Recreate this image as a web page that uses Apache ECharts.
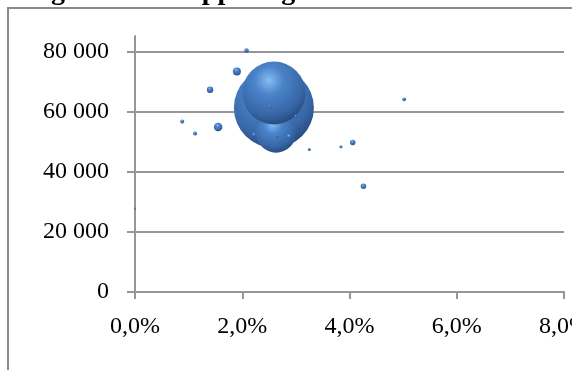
<!DOCTYPE html>
<html>
<head>
<meta charset="utf-8">
<script src="https://cdn.jsdelivr.net/npm/echarts@6/dist/echarts.min.js"></script>
<style>html,body{margin:0;padding:0;background:#fff}#c{width:572px;height:370px}</style>
</head>
<body>
<div id="c"></div>
<script>
// Data
const titleText = 'Diagram 6: Grupperingsvärde';
const xPercent = [2.08, 1.90, 1.40, 5.02, 0.88, 1.55, 1.12, 2.59, 2.63, 2.59, 2.51, 3.00, 2.22, 2.65, 2.87, 3.25, 3.84, 4.06, 4.26, 0.00];
const yValues  = [80500, 73500, 67400, 64200, 56800, 55000, 52800, 61400, 53100, 66300, 61800, 58600, 52400, 52100, 51800, 47500, 48400, 49800, 35200, 27800];
const bubbleSize = [20, 64, 42, 14, 16, 72, 16, 6400, 1600, 3969, 9, 9, 16, 9, 25, 9, 10, 30, 30, 4];
const yTickValues = [0, 20000, 40000, 60000, 80000];
const xTickValues = [0, 2, 4, 6, 8];

const data = xPercent.map((x, i) => [x, yValues[i], bubbleSize[i]]);

const bubbleColor = {
  type: 'radial', x: 0.42, y: 0.3, r: 0.8,
  colorStops: [
    {offset: 0, color: '#86bcf2'},
    {offset: 0.28, color: '#4b84ca'},
    {offset: 0.68, color: '#3767a6'},
    {offset: 1, color: '#203d6b'}
  ]
};

const gray = '#969696';
const serif = 'Liberation Serif';

const chart = echarts.init(document.getElementById('c'), null, {renderer: 'canvas'});
chart.setOption({
  animation: false,
  backgroundColor: '#fff',
  graphic: [
    {type: 'rect', shape: {x: 8, y: 8, width: 700, height: 500},
     style: {fill: 'none', stroke: '#8a8a8a', lineWidth: 2}, z: 0},
    {type: 'text', x: 9, y: 6,
     style: {text: titleText, font: 'bold 28px "' + serif + '"', fill: '#000', verticalAlign: 'bottom'}}
  ],
  grid: {left: 135, top: 36, right: 8, bottom: 78, outerBoundsMode: 'none', containLabel: false},
  xAxis: {
    type: 'value', min: 0, max: 8, interval: 2,
    axisLine: {show: true, lineStyle: {color: gray, width: 2}},
    axisTick: {show: true, length: 7, lineStyle: {color: gray, width: 2}, customValues: xTickValues},
    axisLabel: {customValues: xTickValues, margin: 23, color: '#000', fontFamily: serif, fontSize: 24,
      formatter: v => v.toFixed(1).replace('.', ',') + '%'},
    splitLine: {show: false}
  },
  yAxis: {
    type: 'value', min: 0, max: 85300, interval: 20000,
    axisLine: {show: true, lineStyle: {color: gray, width: 2}},
    axisTick: {show: true, length: 8, lineStyle: {color: gray, width: 2}, customValues: yTickValues},
    axisLabel: {customValues: yTickValues, margin: 26, color: '#000', fontFamily: serif, fontSize: 24,
      formatter: v => String(v).replace(/\B(?=(\d{3})+(?!\d))/g, ' ')},
    splitLine: {show: true, lineStyle: {color: gray, width: 2}}
  },
  series: [{
    type: 'scatter',
    data: data,
    symbol: 'circle',
    symbolSize: d => Math.sqrt(d[2]),
    itemStyle: {color: bubbleColor, opacity: 1},
    emphasis: {disabled: true}
  }]
});
</script>
</body>
</html>
